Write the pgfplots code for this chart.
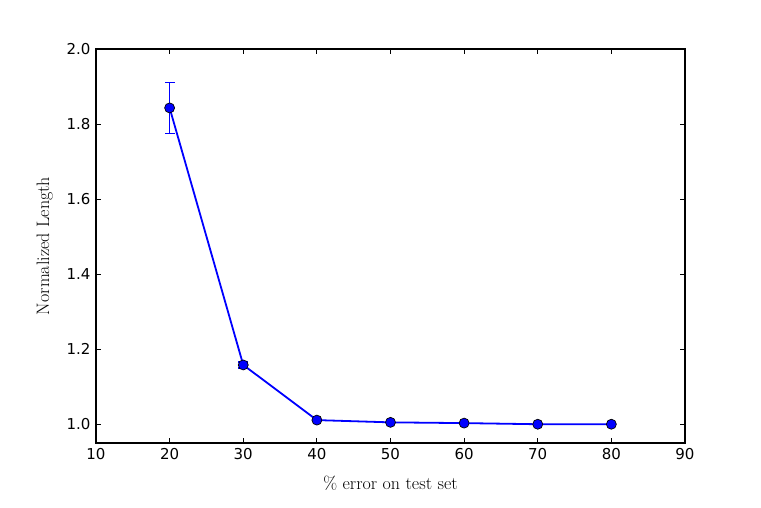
\documentclass[border=0pt]{standalone}
\usepackage{pgfplots}
\pgfplotsset{compat=1.18}
\usepackage{fontspec}
\newfontfamily\dejavu{DejaVu Sans}
\begin{document}
\begin{tikzpicture}[x=1pt,y=1pt]
\useasboundingbox (0,0) rectangle (761,508);
\begin{axis}[
  at={(96pt,65pt)}, anchor=south west,
  scale only axis, width=589pt, height=394pt,
  xmin=10, xmax=90, ymin=0.95, ymax=2.0,
  xtick={10,20,...,90}, ytick={1.0,1.2,...,2.01},
  yticklabel style={/pgf/number format/.cd,fixed,fixed zerofill,precision=1},
  /pgf/number format/assume math mode=true,
  tick label style={font=\dejavu\fontsize{15}{17}\selectfont},
  xlabel style={font=\fontsize{18}{20}\selectfont, yshift=-9pt},
  ylabel style={font=\fontsize{18}{20}\selectfont, yshift=7pt},
  xlabel={\% error on test set},
  ylabel={Normalized Length},
  tick align=inside,
  major tick length=5pt,
  minor tick num=0,
  axis line style={line width=1.2pt},
  major tick style={black, line width=0.8pt},
  xticklabel shift=2pt, yticklabel shift=2pt,
]
% error bar of the point at 20 (lower, upper)
\addplot[blue, line width=1.5pt, mark=-, mark size=5pt,
  mark options={solid, draw=blue, line width=1.5pt}, forget plot]
coordinates {(20,1.775) (20,1.911)};
% error bar of the point at 30 (lower, upper)
\addplot[blue, line width=1.5pt, mark=-, mark size=5pt,
  mark options={solid, draw=blue, line width=1.5pt}, forget plot]
coordinates {(30,1.150) (30,1.166)};
\addplot[blue, line width=1.8pt, mark=*, mark size=5pt,
  mark options={fill=blue, draw=black, line width=0.7pt}]
coordinates {
(20,1.843)
(30,1.158)
(40,1.011)
(50,1.005)
(60,1.003)
(70,1.000)
(80,1.000)
};
\end{axis}
\end{tikzpicture}
\end{document}
